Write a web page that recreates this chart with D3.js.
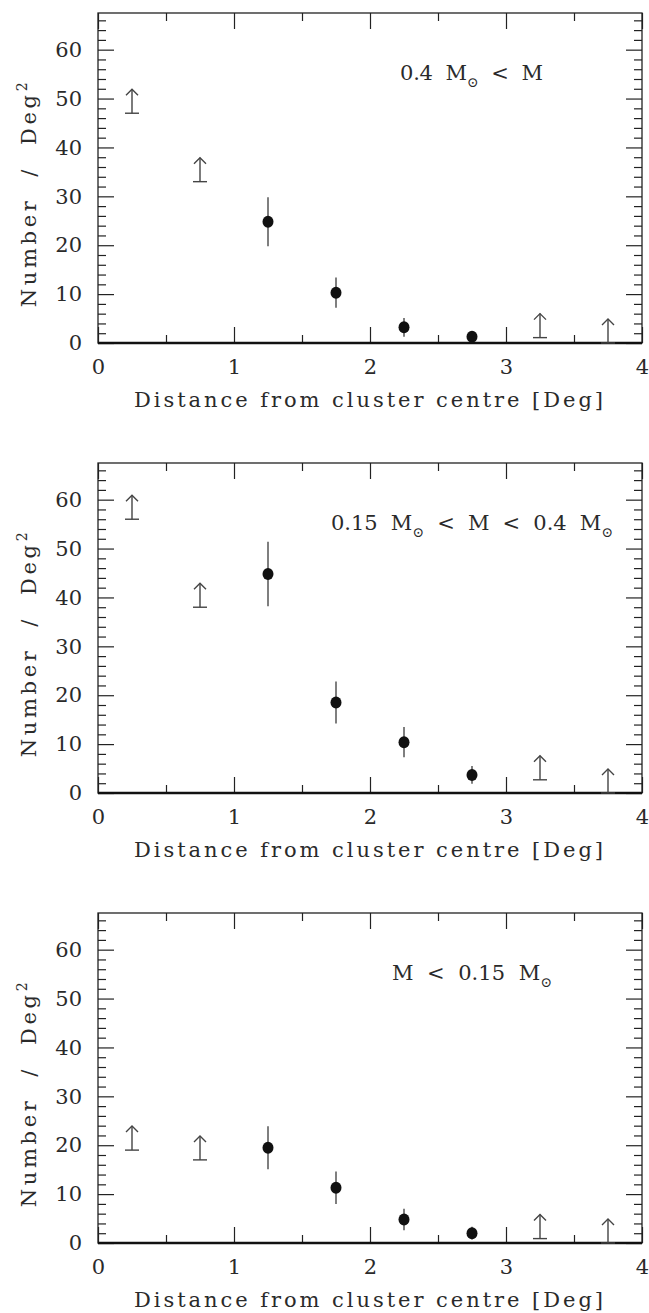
<!DOCTYPE html>
<html>
<head>
<meta charset="utf-8">
<script src="https://cdn.jsdelivr.net/npm/d3@7"></script>
<style>
  body { margin: 0; background: #fff; }
  svg { display: block; }
  text { font-family: "DejaVu Serif", "Liberation Serif", serif; fill: #2a2a2a; }
</style>
</head>
<body>
<svg id="chart" width="649" height="1313"></svg>
<script>
// radial bins (deg)
const distances = [0.25, 0.75, 1.25, 1.75, 2.25, 2.75, 3.25, 3.75];

// null error -> lower limit (arrow)
const highMass = [47, 33, 24.8, 10.3, 3.2, 1.3, 1.1, 0];
const highMassErr = [null, null, 5.0, 3.1, 1.9, 0.9, null, null];
const midMass = [56, 38, 44.8, 18.5, 10.4, 3.7, 2.7, 0];
const midMassErr = [null, null, 6.6, 4.3, 3.1, 1.8, null, null];
const lowMass = [19, 17, 19.5, 11.3, 4.8, 2.0, 0.9, 0];
const lowMassErr = [null, null, 4.4, 3.3, 2.2, 1.3, null, null];

const xTicks = [0, 1, 2, 3, 4];
const xMinor = [0.5, 1.5, 2.5, 3.5];
const yTicks = [0, 10, 20, 30, 40, 50, 60];
const yMinor = d3.range(2, 68, 2).filter(v => v % 10 !== 0);

const panels = [
  { vals: highMass, errs: highMassErr, label: [["0.4 M"], ["⊙", "sub"], [" < M"]], lx: 400, lw: 143 },
  { vals: midMass, errs: midMassErr, label: [["0.15 M"], ["⊙", "sub"], [" < M < 0.4 M"], ["⊙", "sub"]], lx: 331, lw: 282 },
  { vals: lowMass, errs: lowMassErr, label: [["M < 0.15 M"], ["⊙", "sub"]], lx: 392, lw: 160 }
];

const svg = d3.select("#chart");
const left = 98, right = 642, panelH = 330;
const tops = [13, 463, 913];
const fs = 21;

const x = d3.scaleLinear().domain([0, 4]).range([left, right]);

// squeeze/stretch a text to a given width with letter spacing
function fitText(t, width) {
  const s = t.text();
  const w = t.node().getComputedTextLength();
  const n = s.length - 1;
  if (n > 0) t.style("letter-spacing", ((width - w) / n) + "px");
}

panels.forEach((p, i) => {
  const top = tops[i], bottom = top + panelH;
  const y = d3.scaleLinear().domain([0, 67.5]).range([bottom, top]);
  const g = svg.append("g");

  const styleAxis = (a) => {
    a.select(".domain").remove();
    a.selectAll("line").attr("stroke", "#222").attr("stroke-width", 1.2);
    a.selectAll("text").style("font-size", fs + "px").attr("fill", "#2a2a2a")
      .style("font-family", "DejaVu Serif, serif");
  };

  // left
  g.append("g").attr("transform", `translate(${left},0)`)
    .call(d3.axisLeft(y).tickValues(yTicks).tickSizeInner(-16).tickSizeOuter(0).tickPadding(16).tickFormat(d3.format("d")))
    .call(styleAxis);
  g.append("g").attr("transform", `translate(${left},0)`)
    .call(d3.axisLeft(y).tickValues(yMinor).tickSizeInner(-8).tickSizeOuter(0).tickFormat(""))
    .call(styleAxis);
  // right
  g.append("g").attr("transform", `translate(${right},0)`)
    .call(d3.axisRight(y).tickValues(yTicks).tickSizeInner(-16).tickSizeOuter(0).tickFormat(""))
    .call(styleAxis);
  g.append("g").attr("transform", `translate(${right},0)`)
    .call(d3.axisRight(y).tickValues(yMinor).tickSizeInner(-8).tickSizeOuter(0).tickFormat(""))
    .call(styleAxis);
  // bottom
  g.append("g").attr("transform", `translate(0,${bottom})`)
    .call(d3.axisBottom(x).tickValues(xTicks).tickSizeInner(-16).tickSizeOuter(0).tickPadding(16).tickFormat(d3.format("d")))
    .call(styleAxis);
  g.append("g").attr("transform", `translate(0,${bottom})`)
    .call(d3.axisBottom(x).tickValues(xMinor).tickSizeInner(-8).tickSizeOuter(0).tickFormat(""))
    .call(styleAxis);
  // top
  g.append("g").attr("transform", `translate(0,${top})`)
    .call(d3.axisTop(x).tickValues(xTicks).tickSizeInner(-16).tickSizeOuter(0).tickFormat(""))
    .call(styleAxis);
  g.append("g").attr("transform", `translate(0,${top})`)
    .call(d3.axisTop(x).tickValues(xMinor).tickSizeInner(-8).tickSizeOuter(0).tickFormat(""))
    .call(styleAxis);

  // frame
  g.append("rect").attr("x", left).attr("y", top).attr("width", right - left).attr("height", panelH)
    .attr("fill", "none").attr("stroke", "#222").attr("stroke-width", 1.3);
  g.append("line").attr("x1", left).attr("x2", right).attr("y1", bottom).attr("y2", bottom)
    .attr("stroke", "#111").attr("stroke-width", 2.4);

  const rows = distances.map((d, k) => ({ d: d, v: p.vals[k], e: p.errs[k] }));

  // detections with error bars
  const det = rows.filter(r => r.e !== null);
  g.selectAll(".err").data(det).join("line")
    .attr("x1", r => x(r.d)).attr("x2", r => x(r.d))
    .attr("y1", r => y(r.v - r.e)).attr("y2", r => y(r.v + r.e))
    .attr("stroke", "#555").attr("stroke-width", 1.5);
  g.selectAll(".dot").data(det).join("ellipse")
    .attr("cx", r => x(r.d)).attr("cy", r => y(r.v))
    .attr("rx", 5.5).attr("ry", 6)
    .attr("fill", "#111");

  // lower limits
  const lim = rows.filter(r => r.e === null);
  const arr = g.selectAll(".lim").data(lim).join("g")
    .attr("transform", r => `translate(${x(r.d)},${y(r.v)})`)
    .attr("stroke", "#444").attr("stroke-width", 1.4).attr("fill", "none");
  arr.append("line").attr("x1", -7).attr("x2", 7).attr("y1", 0).attr("y2", 0);
  arr.append("line").attr("x1", 0).attr("x2", 0).attr("y1", 0).attr("y2", -24);
  arr.append("path").attr("d", "M-6,-18L0,-24L6,-18");

  // mass range label
  const lab = g.append("text").attr("x", p.lx).attr("y", top + 67)
    .style("font-size", fs + "px").attr("xml:space", "preserve");
  p.label.forEach(part => {
    if (part[1] === "sub") {
      lab.append("tspan").attr("dy", 7).style("font-size", "14px").text(part[0]);
    } else {
      const prev = lab.selectAll("tspan").size();
      lab.append("tspan").attr("dy", prev ? -7 : 0).text(part[0].replace(/ /g, "\u00a0\u00a0"));
    }
  });
  fitText(lab, p.lw);

  // axis titles
  const xl = g.append("text").attr("x", (left + right) / 2).attr("y", bottom + 64)
    .attr("text-anchor", "middle").style("font-size", fs + "px")
    .text("Distance from cluster centre [Deg]");
  fitText(xl, 469);

  const yl = g.append("text")
    .attr("transform", `translate(36,${top + panelH / 2 + 15}) rotate(-90)`)
    .attr("text-anchor", "middle").style("font-size", fs + "px");
  yl.append("tspan").text("Number\u00a0\u00a0/\u00a0\u00a0Deg");
  yl.append("tspan").attr("dy", -9).style("font-size", "14px").text("2");
  fitText(yl, 225);
});
</script>
</body>
</html>
